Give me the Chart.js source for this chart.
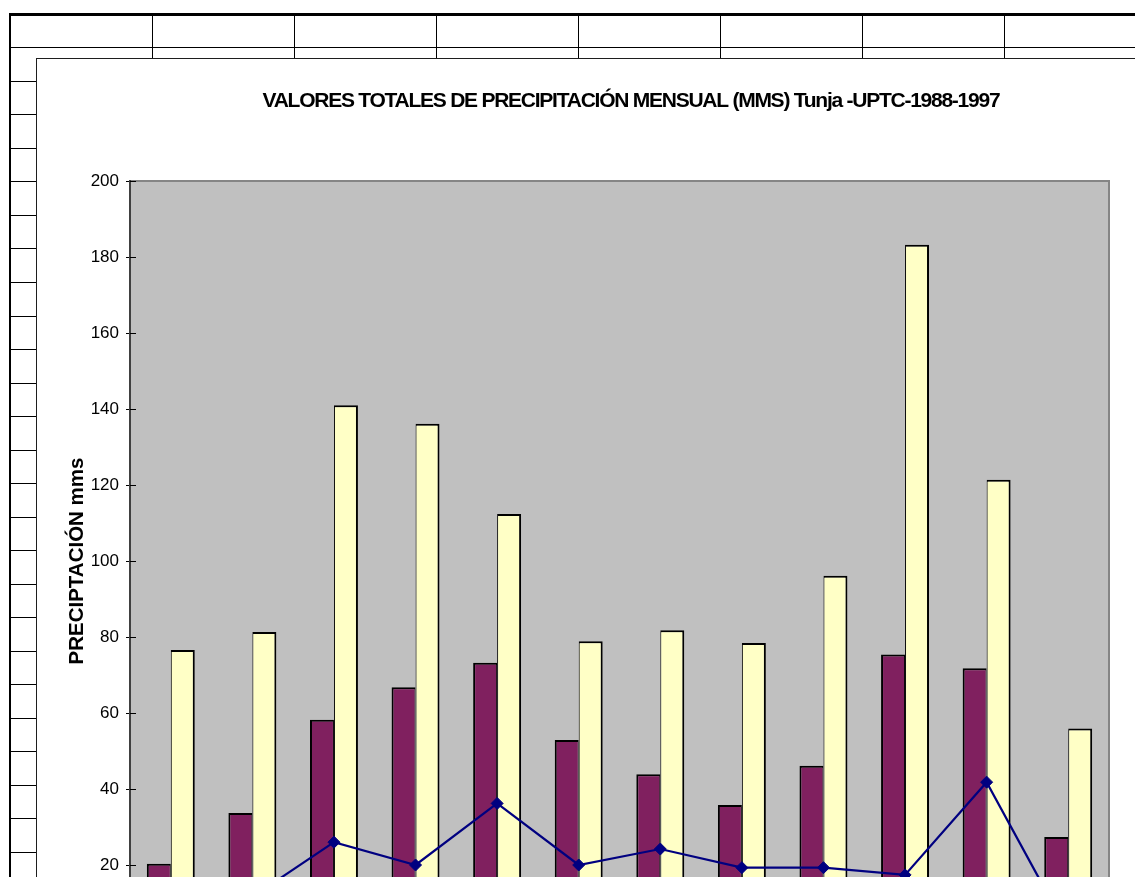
<!DOCTYPE html>
<html lang="es">
<head>
<meta charset="utf-8">
<title>Precipitación mensual Tunja - UPTC 1988-1997</title>
<script src="https://cdn.jsdelivr.net/npm/chart.js@4/dist/chart.umd.min.js"></script>
<style>
  html, body { margin: 0; padding: 0; background: #fff; overflow: hidden; width: 1135px; height: 877px; }
  #sheet { position: absolute; left: 0; top: 0; width: 1135px; height: 877px; overflow: hidden; background: #fff; }
  .ln { position: absolute; background: #000; }
  #chartBox {
    position: absolute; left: 36px; top: 58px; width: 1189px; height: 1000px;
    background: #fff; border-left: 1px solid #1e1e1e; border-top: 1px solid #1e1e1e;
  }
  #chartBox canvas { position: absolute; left: 0; top: 0; }
</style>
</head>
<body>
<div id="sheet">
  <div id="grid"></div>
  <div id="chartBox"><canvas id="chart" width="1189" height="1000"></canvas></div>
</div>
<script>
// ---- data -------------------------------------------------------------
const months = ['ENE', 'FEB', 'MAR', 'ABR', 'MAY', 'JUN', 'JUL', 'AGO', 'SEP', 'OCT', 'NOV', 'DIC'];
const mediaMensual  = [20.3, 33.7, 58.2, 66.8, 73.2, 52.9, 43.9, 35.8, 46.1, 75.4, 71.8, 27.4];
const maximaMensual = [76.6, 81.3, 141.0, 136.1, 112.4, 78.9, 81.8, 78.4, 96.1, 183.2, 121.4, 55.9];
const minimaMensual = [9.0, 11.6, 26.0, 20.0, 36.2, 20.0, 24.2, 19.3, 19.3, 17.4, 41.8, 2.4];
const yMin = 0;
const yMax = 200;
const yStep = 20;
const chartTitle = 'VALORES TOTALES DE PRECIPITACIÓN MENSUAL (MMS) Tunja -UPTC-1988-1997';
const yTitle = 'PRECIPTACIÓN mms';

// ---- spreadsheet grid behind the chart ---------------------------------
const grid = document.getElementById('grid');
function addLine(left, top, width, height) {
  const d = document.createElement('div');
  d.className = 'ln';
  d.style.left = left + 'px';
  d.style.top = top + 'px';
  d.style.width = width + 'px';
  d.style.height = height + 'px';
  grid.appendChild(d);
}
addLine(9, 13, 1130, 3);          // thick top border
addLine(9, 13, 2, 870);           // thick left border
addLine(11, 47, 1130, 1);         // first row line
[152, 294, 436, 578, 720, 862, 1004].forEach(x => addLine(x, 15, 1, 44));
for (let k = 1; k < 26; k++) {
  const y = Math.round(47.3 + 33.53 * k);
  if (y < 877) addLine(11, y, 26, 1);
}

// ---- chart ------------------------------------------------------------
const FONT = '"Liberation Sans", Arial, Helvetica, sans-serif';
Chart.defaults.font.family = FONT;
Chart.defaults.color = '#000';

// grey plot background with its frame
const plotFrame = {
  id: 'plotFrame',
  beforeDraw(chart) {
    const { ctx, chartArea: { left, top, right, bottom } } = chart;
    ctx.save();
    ctx.fillStyle = '#C0C0C0';
    ctx.fillRect(left, top, right - left, bottom - top);
    ctx.strokeStyle = '#858585';
    ctx.lineWidth = 2;
    ctx.beginPath();
    ctx.moveTo(left, top);
    ctx.lineTo(right, top);
    ctx.lineTo(right, bottom);
    ctx.stroke();
    ctx.restore();
  }
};

// tick marks that cross the value axis into the plot
const innerTicks = {
  id: 'innerTicks',
  beforeDatasetsDraw(chart) {
    const { ctx, chartArea: { left } } = chart;
    const scale = chart.scales.y;
    ctx.save();
    ctx.strokeStyle = '#000';
    ctx.lineWidth = 1;
    ctx.beginPath();
    scale.ticks.forEach(t => {
      const y = Math.round(scale.getPixelForValue(t.value) - 0.5) + 0.5;
      ctx.moveTo(left, y);
      ctx.lineTo(left + 6, y);
    });
    ctx.stroke();
    ctx.restore();
  }
};

// condensed bold heading
const heading = {
  id: 'heading',
  afterDraw(chart) {
    const { ctx } = chart;
    ctx.save();
    ctx.font = 'bold 21px ' + FONT;
    if ('letterSpacing' in ctx) ctx.letterSpacing = '-1.25px';
    ctx.textAlign = 'center';
    ctx.textBaseline = 'alphabetic';
    ctx.fillStyle = '#000';
    ctx.fillText(chartTitle, chart.width / 2 - 0.6, 47.8);
    ctx.restore();
  }
};

new Chart(document.getElementById('chart'), {
  data: {
    labels: months,
    datasets: [
      {
        type: 'line',
        label: 'Mínima',
        data: minimaMensual,
        order: 0,
        borderColor: '#000080',
        backgroundColor: '#000080',
        borderWidth: 2.2,
        tension: 0,
        pointStyle: 'rectRot',
        pointRadius: 6,
        pointBorderWidth: 1,
        pointBackgroundColor: '#000080',
        pointBorderColor: '#000080'
      },
      {
        type: 'bar',
        label: 'Media',
        data: mediaMensual,
        order: 1,
        backgroundColor: '#80205F',
        borderColor: '#000',
        borderWidth: { top: 2, left: 2, right: 1, bottom: 2 },
        borderSkipped: false,
        inflateAmount: 0,
        categoryPercentage: 0.588,
        barPercentage: 1
      },
      {
        type: 'bar',
        label: 'Máxima',
        data: maximaMensual,
        order: 1,
        backgroundColor: '#FFFFC6',
        borderColor: '#000',
        borderWidth: { top: 2, left: 1, right: 2, bottom: 2 },
        borderSkipped: false,
        inflateAmount: 0,
        categoryPercentage: 0.588,
        barPercentage: 1
      }
    ]
  },
  options: {
    responsive: false,
    animation: false,
    devicePixelRatio: 1,
    events: [],
    layout: { padding: { top: 122, right: 117, bottom: 78, left: 0 } },
    plugins: {
      legend: { display: false },
      title: { display: false },
      tooltip: { enabled: false }
    },
    scales: {
      x: {
        grid: { display: false },
        border: { display: false },
        ticks: { color: '#000', font: { size: 17 } },
        afterFit(scale) { scale.height = 40; }
      },
      y: {
        min: yMin,
        max: yMax,
        ticks: { stepSize: yStep, color: '#000', padding: 7, font: { size: 17 } },
        grid: { drawOnChartArea: false, drawTicks: true, tickLength: 4, color: '#000', lineWidth: 1 },
        border: { display: true, color: '#404040', width: 2 },
        title: {
          display: true,
          text: yTitle,
          color: '#000',
          font: { size: 20.5, weight: 'bold' },
          padding: { top: 28, bottom: 0 }
        },
        afterFit(scale) { scale.width = 93; }
      }
    }
  },
  plugins: [plotFrame, innerTicks, heading]
});
</script>
</body>
</html>
